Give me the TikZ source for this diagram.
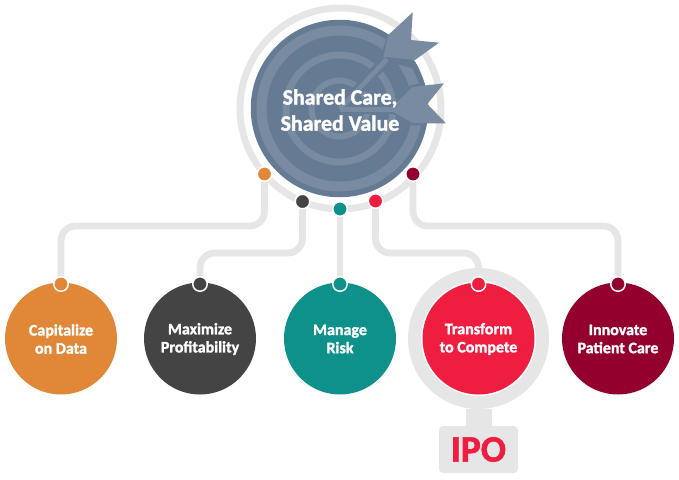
\documentclass[tikz,border=0pt]{standalone}
\usepackage{fontspec}
\setmainfont[BoldFeatures={FakeBold=1.6}]{Carlito}
\usetikzlibrary{backgrounds}
\definecolor{ringgray}{HTML}{E6E6E6}
\definecolor{slate}{HTML}{647B93}
\definecolor{slatelt}{HTML}{788BA0}
\definecolor{corange}{HTML}{E08838}
\definecolor{cdark}{HTML}{444444}
\definecolor{cteal}{HTML}{0E918B}
\definecolor{cred}{HTML}{EF1D3F}
\definecolor{cmaroon}{HTML}{93002D}
\tikzset{
  disc/.style={circle,inner sep=0pt,minimum size=112*0.75pt,draw=none},
  dot/.style={circle,inner sep=0pt,minimum size=14.5*0.75pt,draw=white,line width=1.1pt},
  conn/.style={draw=ringgray,line width=5.1pt,rounded corners=11pt},
  lab/.style={text=white,align=center,font=\bfseries\fontsize{12}{13.6}\selectfont},
  band/.style={draw=slatelt},
  arrowfill/.style={fill=slatelt,draw=none},
}
\begin{document}
\begin{tikzpicture}[x=0.75pt,y=-0.75pt]
\useasboundingbox (0,0) rectangle (679,479);
% hub
\node[circle,inner sep=0pt,minimum size=177.5*0.75pt,fill=slate] (hub) at (339.5,108.5) {};
\begin{scope}
  \clip (339.5,108.5) circle[radius=88.75*0.75pt];
  \draw[band,line width=7.5pt] (339.5,108.5) circle[radius=78*0.75pt];
  \draw[band,line width=5.2pt] (339.5,108.5) circle[radius=53.5*0.75pt];
  \draw[band,line width=4.5pt] (339.5,108.5) circle[radius=28*0.75pt];
  % dark halo round the arrows inside the target
  \draw[slate,line width=8pt] (340,109) -- (386,60);
  \draw[slate,line width=8pt] (340,109) -- (395,109);
  \fill[slate] (380,60) -- (388,32) -- (440,62) -- (420,70) -- cycle;
  \draw[slate,line width=3pt] (393,111.5) -- (413,123.3) -- (430,123) (393,106.5) -- (412,87) -- (430,84);
\end{scope}
% arrows
\draw[slatelt,line width=3.6pt] (340,109) -- (387,59);
\fill[arrowfill] (412.7,12.3) -- (411,40) -- (439,42.7) -- (415,60) -- (383.3,56.7) -- (388.3,35) -- cycle;
\draw[slatelt,line width=3.6pt] (340,109.2) -- (396,109.2);
\fill[arrowfill] (444,83.3) -- (427.3,104) -- (446,123.3) -- (413.3,123.3) -- (393,111.7) -- (393,106.7) -- (412,87) -- cycle;
\node[lab,font=\bfseries\fontsize{16.4}{19.6}\selectfont] (hubtext) at (340,110) {Shared Care,\\Shared Value};
% target discs
\node[disc,fill=corange] (t1) at (61,338.5) {};
\node[disc,fill=cdark] (t2) at (200,338.5) {};
\node[disc,fill=cteal] (t3) at (340,338.5) {};
\node[disc,fill=cred] (t4) at (478.5,338.5) {};
\node[disc,fill=cmaroon] (t5) at (618,338.5) {};
\node[lab] (l1) at (61,339) {Capitalize\\on Data};
\node[lab] (l2) at (200,339) {Maximize\\Profitability};
\node[lab] (l3) at (340,339) {Manage\\Risk};
\node[lab] (l4) at (478.5,339) {Transform\\to Compete};
\node[lab] (l5) at (618,339) {Innovate\\Patient Care};
% dots on the hub
\node[dot,fill=corange] (d1) at (264.5,174) {};
\node[dot,fill=cdark] (d2) at (302.5,201.5) {};
\node[dot,fill=cteal] (d3) at (340,209) {};
\node[dot,fill=cred] (d4) at (375.5,201) {};
\node[dot,fill=cmaroon] (d5) at (413,174) {};
% dots on the discs
\node[dot,fill=corange] (e1) at (61,284) {};
\node[dot,fill=cdark] (e2) at (200,284) {};
\node[dot,fill=cteal] (e3) at (340,284) {};
\node[dot,fill=cred] (e4) at (478.5,284) {};
\node[dot,fill=cmaroon] (e5) at (618,284) {};
% IPO
\node[fill=ringgray,rounded corners=3pt,inner sep=0pt,minimum width=79*0.75pt,minimum height=47*0.75pt,text=cred,font=\bfseries\fontsize{28}{28}\selectfont] (ipo) at (478.5,449.5) {IPO};
\begin{scope}[on background layer]
  \node[circle,inner sep=0pt,minimum size=141*0.75pt,fill=ringgray] (halo) at (478.5,338.5) {};
  \node[circle,inner sep=0pt,minimum size=115*0.75pt,fill=white] at (478.5,338.5) {};
  \draw[draw=ringgray,line width=19.5pt] (halo.south) -- (ipo.north);
  \draw[ringgray,line width=5.2pt] (340.5,108.5) circle[radius=100.5*0.75pt];
  \draw[conn] (d1.center) -- (d1.center |- 0,226) -| (e1.center);
  \draw[conn] (d2.center) -- (d2.center |- 0,253) -| (e2.center);
  \draw[conn] (d3.center) -- (e3.center);
  \draw[conn] (d4.center) -- (d4.center |- 0,253) -| (e4.center);
  \draw[conn] (d5.center) -- (d5.center |- 0,226) -| (e5.center);
\end{scope}
\end{tikzpicture}
\end{document}
